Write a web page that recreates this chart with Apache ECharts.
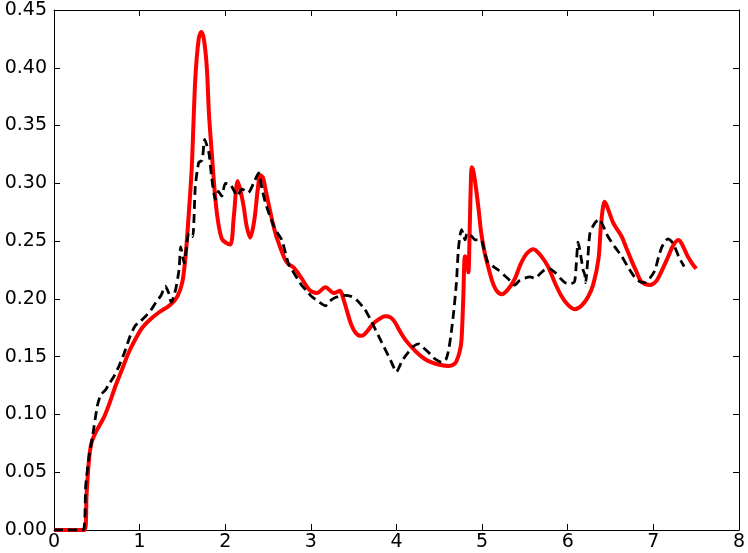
<!DOCTYPE html>
<html>
<head>
<meta charset="utf-8">
<script src="https://cdn.jsdelivr.net/npm/echarts@6/dist/echarts.min.js"></script>
<style>
html,body{margin:0;padding:0;background:#fff;}
#chart{width:748px;height:553px;}
</style>
</head>
<body>
<div id="chart"></div>
<script>
// Red solid series: [x, y]
const redSeries = [
[0,0],[0.36,0],[0.38,0.03],[0.41,0.062],[0.44,0.076],[0.49,0.085],[0.58,0.097],[0.65,0.11],[0.72,0.125],[0.8,0.14],[0.875,0.154],[0.95,0.165],[1.03,0.175],[1.12,0.182],[1.22,0.188],[1.36,0.195],[1.44,0.202],[1.5,0.215],[1.54,0.24],[1.58,0.28],[1.61,0.315],[1.65,0.39],[1.69,0.425],[1.72,0.431],[1.75,0.425],[1.785,0.40],[1.81,0.36],[1.84,0.329],[1.885,0.286],[1.92,0.265],[1.96,0.252],[2.0,0.249],[2.06,0.247],[2.1,0.271],[2.145,0.302],[2.18,0.293],[2.215,0.28],[2.25,0.263],[2.29,0.253],[2.32,0.26],[2.35,0.274],[2.38,0.295],[2.41,0.307],[2.44,0.305],[2.47,0.295],[2.53,0.274],[2.585,0.257],[2.64,0.245],[2.7,0.234],[2.74,0.23],[2.8,0.227],[2.89,0.218],[2.98,0.208],[3.07,0.205],[3.17,0.21],[3.27,0.205],[3.34,0.207],[3.38,0.2],[3.42,0.19],[3.47,0.178],[3.52,0.171],[3.58,0.168],[3.62,0.169],[3.68,0.174],[3.75,0.18],[3.87,0.185],[3.93,0.184],[3.98,0.18],[4.04,0.172],[4.1,0.165],[4.18,0.158],[4.26,0.152],[4.33,0.148],[4.41,0.145],[4.5,0.143],[4.61,0.142],[4.66,0.143],[4.7,0.146],[4.74,0.155],[4.76,0.165],[4.78,0.2],[4.8,0.237],[4.82,0.235],[4.84,0.223],[4.855,0.26],[4.87,0.305],[4.88,0.314],[4.9,0.31],[4.93,0.295],[4.96,0.277],[4.99,0.257],[5.03,0.24],[5.07,0.228],[5.12,0.215],[5.17,0.207],[5.23,0.204],[5.3,0.208],[5.38,0.217],[5.45,0.23],[5.52,0.239],[5.6,0.243],[5.68,0.238],[5.77,0.228],[5.85,0.214],[5.93,0.202],[6.0,0.195],[6.08,0.191],[6.16,0.194],[6.24,0.202],[6.3,0.213],[6.36,0.235],[6.39,0.265],[6.43,0.284],[6.46,0.28],[6.53,0.266],[6.63,0.254],[6.68,0.245],[6.74,0.234],[6.8,0.224],[6.86,0.215],[6.96,0.212],[7.03,0.215],[7.09,0.223],[7.17,0.236],[7.23,0.246],[7.29,0.251],[7.33,0.248],[7.4,0.237],[7.45,0.231],[7.5,0.226]
];
// Black dashed series: [x, y]
const blackSeries = [
[0,0],[0.34,0],[0.37,0.038],[0.41,0.064],[0.45,0.081],[0.505,0.107],[0.545,0.117],[0.6,0.121],[0.64,0.126],[0.7,0.133],[0.76,0.142],[0.82,0.153],[0.89,0.168],[0.95,0.177],[1.0,0.18],[1.07,0.185],[1.13,0.19],[1.19,0.197],[1.25,0.203],[1.30,0.211],[1.34,0.205],[1.37,0.197],[1.42,0.208],[1.46,0.225],[1.48,0.245],[1.52,0.231],[1.575,0.257],[1.62,0.254],[1.65,0.297],[1.69,0.318],[1.73,0.32],[1.76,0.338],[1.81,0.326],[1.84,0.306],[1.885,0.286],[1.92,0.293],[1.96,0.289],[2.0,0.30],[2.06,0.299],[2.1,0.294],[2.14,0.289],[2.195,0.295],[2.27,0.292],[2.33,0.3],[2.39,0.309],[2.43,0.295],[2.47,0.283],[2.53,0.27],[2.585,0.26],[2.66,0.251],[2.74,0.23],[2.78,0.225],[2.89,0.212],[2.95,0.207],[3.01,0.202],[3.1,0.197],[3.17,0.194],[3.22,0.198],[3.28,0.201],[3.38,0.203],[3.48,0.202],[3.55,0.198],[3.63,0.191],[3.69,0.183],[3.75,0.174],[3.81,0.165],[3.87,0.156],[3.93,0.147],[4.0,0.137],[4.07,0.147],[4.14,0.154],[4.2,0.159],[4.26,0.161],[4.31,0.158],[4.37,0.154],[4.45,0.148],[4.53,0.145],[4.58,0.148],[4.61,0.156],[4.64,0.171],[4.67,0.19],[4.70,0.214],[4.72,0.24],[4.74,0.254],[4.76,0.26],[4.78,0.256],[4.80,0.251],[4.82,0.256],[4.84,0.257],[4.88,0.254],[4.92,0.251],[4.99,0.251],[5.03,0.24],[5.07,0.231],[5.13,0.228],[5.19,0.225],[5.25,0.221],[5.31,0.217],[5.38,0.212],[5.44,0.216],[5.50,0.218],[5.56,0.219],[5.62,0.218],[5.68,0.222],[5.73,0.225],[5.79,0.226],[5.85,0.223],[5.91,0.218],[5.97,0.214],[6.03,0.213],[6.08,0.215],[6.1,0.23],[6.12,0.249],[6.14,0.243],[6.16,0.234],[6.18,0.225],[6.2,0.221],[6.21,0.214],[6.23,0.23],[6.26,0.257],[6.32,0.266],[6.37,0.269],[6.42,0.262],[6.47,0.254],[6.55,0.245],[6.63,0.237],[6.7,0.228],[6.78,0.219],[6.84,0.215],[6.9,0.214],[6.96,0.218],[7.02,0.225],[7.06,0.236],[7.1,0.245],[7.14,0.25],[7.17,0.252],[7.21,0.25],[7.25,0.245],[7.3,0.236],[7.36,0.228]
];
const xTicks = {min: 0, max: 8, interval: 1};
const yTicks = {min: 0, max: 0.45, interval: 0.05};

const chart = echarts.init(document.getElementById('chart'), null, {renderer: 'canvas'});
const font = 'DejaVu Sans';
const axisLine = {show: true, onZero: false, lineStyle: {color: '#000', width: 1}};
const tick = {show: true, inside: true, length: 6, lineStyle: {color: '#000', width: 1}};
chart.setOption({
  animation: false,
  backgroundColor: '#fff',
  grid: {left: 54, right: 7, top: 10, bottom: 23, containLabel: false},
  xAxis: [
    {type: 'value', min: xTicks.min, max: xTicks.max, interval: xTicks.interval, position: 'bottom',
     axisLine: axisLine, axisTick: tick, splitLine: {show: false},
     axisLabel: {color: '#000', fontFamily: font, fontSize: 19, margin: 3, formatter: v => String(v)}},
    {type: 'value', min: xTicks.min, max: xTicks.max, interval: xTicks.interval, position: 'top',
     axisLine: axisLine, axisTick: tick, splitLine: {show: false}, axisLabel: {show: false}}
  ],
  yAxis: [
    {type: 'value', min: yTicks.min, max: yTicks.max, interval: yTicks.interval, position: 'left',
     axisLine: axisLine, axisTick: tick, splitLine: {show: false},
     axisLabel: {color: '#000', fontFamily: font, fontSize: 19, margin: 7, formatter: v => v.toFixed(2)}},
    {type: 'value', min: yTicks.min, max: yTicks.max, interval: yTicks.interval, position: 'right',
     axisLine: axisLine, axisTick: tick, splitLine: {show: false}, axisLabel: {show: false}}
  ],
  series: [
    {type: 'line', data: redSeries, xAxisIndex: 0, yAxisIndex: 0, showSymbol: false, smooth: 0.3,
     lineStyle: {color: '#ff0000', width: 4}, z: 2},
    {type: 'line', data: blackSeries, xAxisIndex: 0, yAxisIndex: 0, showSymbol: false, smooth: 0.2,
     lineStyle: {color: '#000', width: 2.8, type: [9, 5]}, z: 3}
  ]
});
</script>
</body>
</html>
